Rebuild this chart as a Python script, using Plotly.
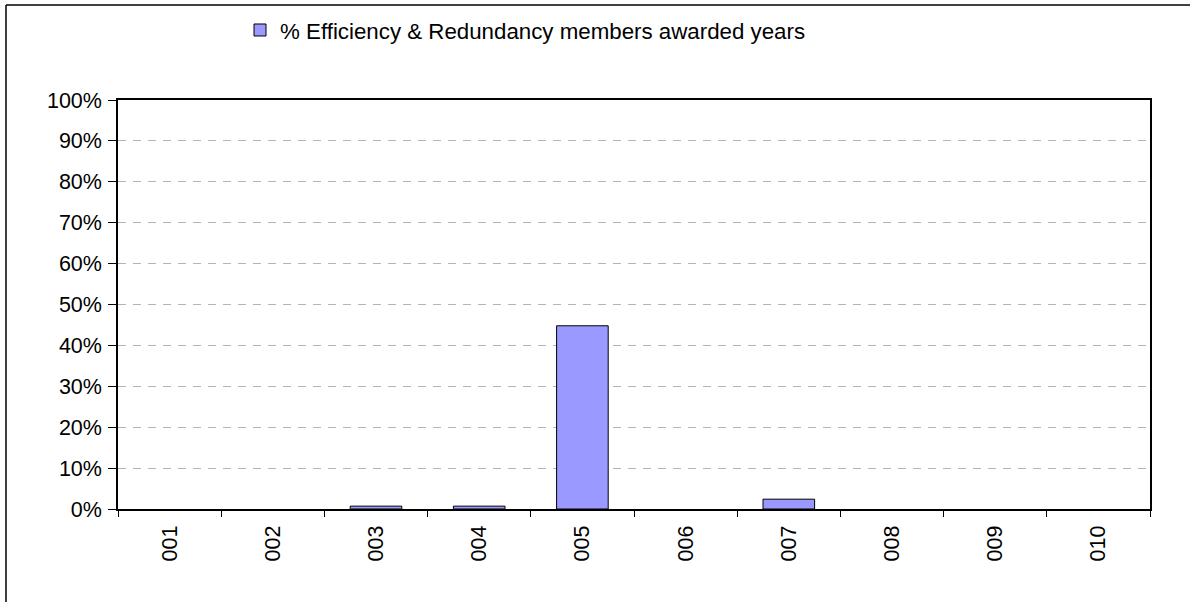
import plotly.graph_objects as go

categories = ["001", "002", "003", "004", "005", "006", "007", "008", "009", "010"]
values = [0.0, 0.0, 0.007, 0.007, 0.448, 0.0, 0.024, 0.0, 0.0, 0.0]
series_name = "% Efficiency & Redundancy members awarded years"

W, H = 1190, 602
L, R, T, B = 118, 40, 100, 93
pw = W - L - R
ph = H - T - B

def px2x(px):
    return (px - L) / pw

def py2y(py):
    return (H - B - py) / ph

# zero-height bars are not drawn (no outline on the axis), as in the reference
plot_values = [v if v > 0 else None for v in values]

fig = go.Figure()
fig.add_trace(go.Bar(
    x=categories, y=plot_values, name=series_name,
    marker=dict(color="#9999FF", line=dict(color="#000000", width=1)),
    showlegend=True,
))

font = dict(family="Liberation Sans, Arial, sans-serif", size=21.5, color="#000000")
legend_font = dict(family="Liberation Sans, Arial, sans-serif", size=22.3, color="#000000")

fig.update_layout(
    width=W, height=H,
    margin=dict(l=L, r=R, t=T, b=B, pad=0, autoexpand=False),
    paper_bgcolor="#FFFFFF", plot_bgcolor="#FFFFFF",
    font=font,
    bargap=0.5,
    showlegend=True,
    legend=dict(x=px2x(240), y=py2y(9), xanchor="left", yanchor="top",
                orientation="h", font=legend_font, bgcolor="rgba(0,0,0,0)"),
    xaxis=dict(
        type="category", showgrid=False, tickangle=-90,
        ticks="outside", ticklen=6, tickwidth=1, tickcolor="#000000",
        tickson="boundaries", automargin=False,
        showline=True, linecolor="#000000", linewidth=2, mirror=True,
        tickfont=font, ticklabelstandoff=6,
    ),
    yaxis=dict(
        range=[0, 1], dtick=0.1, tickformat=".0%", automargin=False,
        showgrid=True, gridcolor="#B4B4B4", gridwidth=1, griddash="8px,7px",
        ticks="outside", ticklen=8, tickwidth=1, tickcolor="#000000",
        showline=True, linecolor="#000000", linewidth=1.5, mirror=True,
        zeroline=False, tickfont=font, ticklabelstandoff=2,
    ),
)

# outer chart-area border (left and top edges visible in the frame)
fig.add_shape(type="line", xref="paper", yref="paper",
              x0=px2x(6), x1=px2x(1200), y0=py2y(5), y1=py2y(5),
              line=dict(color="#000000", width=1.5))
fig.add_shape(type="line", xref="paper", yref="paper",
              x0=px2x(6), x1=px2x(6), y0=py2y(5), y1=py2y(610),
              line=dict(color="#000000", width=1.5))

fig.write_html("out.html")
